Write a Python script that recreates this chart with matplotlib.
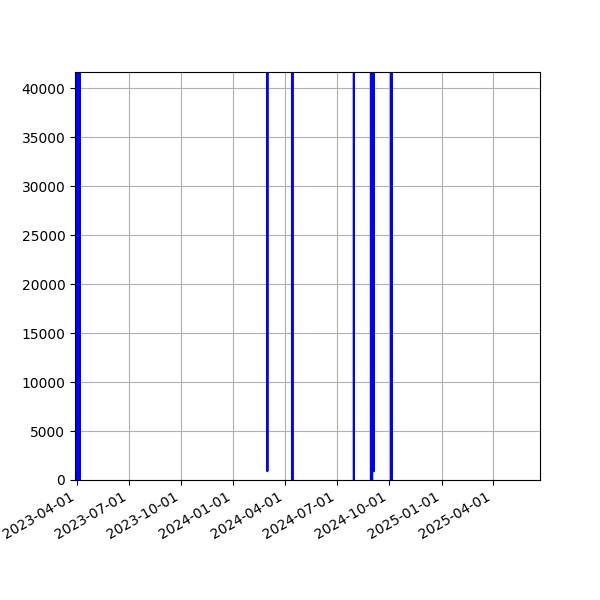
import numpy as np
import pandas as pd
import matplotlib
matplotlib.use("Agg")
import matplotlib.pyplot as plt
import matplotlib.dates as mdates

HIGH = 500000  # level of the series between the dips, far above the visible range

dates = ["2023-03-29", "2023-03-31", "2023-04-01", "2023-04-03", "2023-04-04",
         "2023-04-06", "2023-04-07",
         "2024-02-29", "2024-03-01", "2024-03-02",
         "2024-04-13", "2024-04-14", "2024-04-15",
         "2024-07-30", "2024-07-31", "2024-08-01",
         "2024-08-29", "2024-08-30", "2024-08-31", "2024-09-01", "2024-09-02",
         "2024-09-04", "2024-09-05",
         "2024-10-04", "2024-10-05", "2024-10-06"]
values = [HIGH, 0, HIGH, 0, HIGH,
          0, HIGH,
          HIGH, 900, HIGH,
          HIGH, 0, HIGH,
          HIGH, 0, HIGH,
          HIGH, 0, HIGH, 0, HIGH,
          900, HIGH,
          HIGH, 0, HIGH]

t = pd.to_datetime(dates)

fig, ax = plt.subplots(figsize=(6, 6), dpi=100)
ax.plot(t, values, color="blue", linewidth=1.5)

ax.set_xlim(pd.Timestamp("2023-03-29"), pd.Timestamp("2025-06-23"))
ax.set_ylim(0, 41633)
ax.set_yticks(np.arange(0, 40001, 5000))
ax.xaxis.set_major_locator(mdates.MonthLocator(bymonth=[1, 4, 7, 10]))
ax.xaxis.set_major_formatter(mdates.DateFormatter("%Y-%m-%d"))
ax.grid(True)
fig.autofmt_xdate()

fig.savefig("out.png", dpi=100)
